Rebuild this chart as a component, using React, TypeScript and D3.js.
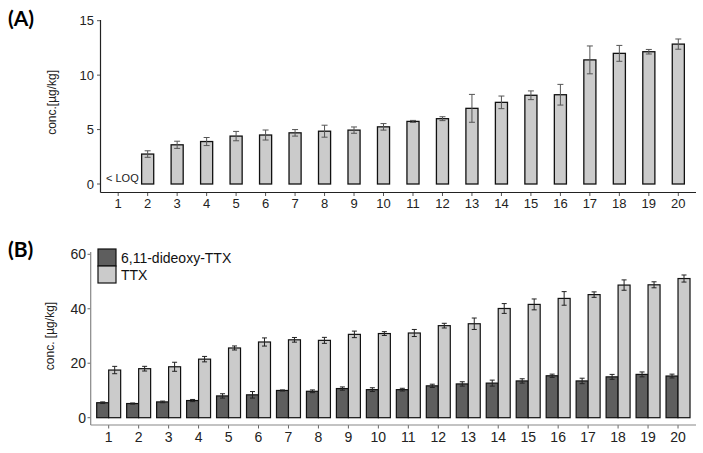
import React from "react";
import * as d3 from "d3";

const samples = d3.range(1, 21).map(String);

// Panel A: TTX concentration (sample 1 < LOQ)
const concA: (number | null)[] = [null, 2.75, 3.6, 3.9, 4.4, 4.5, 4.7, 4.85, 4.95, 5.25, 5.75, 6.0, 6.95, 7.5, 8.15, 8.2, 11.4, 12.0, 12.15, 12.85];
const errA: (number | null)[] = [null, 0.3, 0.33, 0.37, 0.43, 0.46, 0.3, 0.55, 0.29, 0.3, 0.09, 0.18, 1.28, 0.58, 0.4, 0.95, 1.28, 0.73, 0.21, 0.47];
const ticksA = [0, 5, 10, 15];

// Panel B
const seriesNames = ["6,11-dideoxy-TTX", "TTX"];
const dideoxy = [5.5, 5.2, 5.8, 6.3, 8.0, 8.4, 10.0, 9.7, 10.7, 10.3, 10.3, 11.7, 12.4, 12.7, 13.5, 15.4, 13.5, 15.0, 15.9, 15.3];
const dideoxyErr = [0.3, 0.2, 0.3, 0.4, 0.8, 1.2, 0.2, 0.5, 0.6, 0.7, 0.5, 0.6, 0.8, 1.1, 0.8, 0.6, 1.0, 0.9, 0.9, 0.7];
const ttx = [17.5, 18.0, 18.7, 21.5, 25.6, 27.8, 28.6, 28.4, 30.6, 30.9, 31.1, 33.8, 34.5, 40.1, 41.6, 43.8, 45.2, 48.7, 48.8, 51.1];
const ttxErr = [1.35, 0.86, 1.66, 1.0, 0.74, 1.5, 0.86, 1.1, 1.2, 0.7, 1.3, 0.86, 2.1, 1.8, 2.0, 2.5, 1.0, 1.9, 1.1, 1.3];
const ticksB = [0, 20, 40, 60];

const FONT = "'Liberation Sans', Arial, sans-serif";
const DARK = "#5e5e5e";
const LIGHT = "#cbcbcb";

export default function App() {
  // Panel A scales
  const xA = d3.scalePoint<string>().domain(samples).range([100.5, 696]).padding(0.6);
  const yA = d3.scaleLinear().domain([0, 15]).range([184, 20.7]);
  const stepA = xA.step();
  const bwA = stepA * 0.41;

  // Panel B scales
  const xB = d3.scalePoint<string>().domain(samples).range([90.7, 696]).padding(0.6);
  const yB = d3.scaleLinear().domain([0, 60]).range([417.7, 254.3]);
  const stepB = xB.step();
  const bwB = stepB * 0.4;
  const seriesB = [
    { name: seriesNames[0], vals: dideoxy, errs: dideoxyErr, color: DARK, off: -1 },
    { name: seriesNames[1], vals: ttx, errs: ttxErr, color: LIGHT, off: 0 },
  ];

  return (
    <svg width={703} height={453} style={{ position: "absolute", left: 0, top: 0, background: "#fff" }} fontFamily={FONT}>
      <rect width={703} height={453} fill="#fff" />
      {/* Panel A */}
      <text x={8} y={26} fontFamily="Lato, 'Open Sans', sans-serif" fontWeight="bold" fontSize={21} fill="#000">(A)</text>
      <text transform={`translate(56,${(yA(0) + yA(15)) / 2}) rotate(-90)`} textAnchor="middle" fontSize={12} fill="#222">conc.[µg/kg]</text>
      {ticksA.map((t) => (
        <g key={t}>
          <line x1={97} x2={100.5} y1={yA(t)} y2={yA(t)} stroke="#555" />
          <text x={94} y={yA(t)} dy="0.36em" textAnchor="end" fontSize={13} fill="#222">{t}</text>
        </g>
      ))}
      {samples.map((s, i) => {
        const v = concA[i];
        const e = errA[i];
        const cx = xA(s)!;
        return (
          <g key={s}>
            <line x1={cx} x2={cx} y1={192.5} y2={196} stroke="#555" />
            <text x={cx} y={208} textAnchor="middle" fontSize={13} fill="#222">{s}</text>
            {v != null && (
              <rect x={cx - bwA / 2} y={yA(v)} width={bwA} height={yA(0) - yA(v)} fill={LIGHT} stroke="#111" strokeWidth={1.3} />
            )}
            {v != null && e != null && (
              <g stroke="#555" strokeWidth={1}>
                <line x1={cx} x2={cx} y1={yA(v + e)} y2={yA(v - e)} />
                <line x1={cx - 3} x2={cx + 3} y1={yA(v + e)} y2={yA(v + e)} />
                <line x1={cx - 3} x2={cx + 3} y1={yA(v - e)} y2={yA(v - e)} />
              </g>
            )}
          </g>
        );
      })}
      <text x={106} y={182} fontSize={11} fill="#222">&lt; LOQ</text>
      <line x1={100.5} x2={100.5} y1={20} y2={192.5} stroke="#222" strokeWidth={1.2} />
      <line x1={100.5} x2={696} y1={192.5} y2={192.5} stroke="#222" strokeWidth={1.2} />

      {/* Panel B */}
      <text x={8} y={257} fontFamily="Lato, 'Open Sans', sans-serif" fontWeight="bold" fontSize={21} fill="#000">(B)</text>
      <text transform={`translate(54,${(yB(0) + yB(60)) / 2}) rotate(-90)`} textAnchor="middle" fontSize={12} fill="#222">conc. [µg/kg]</text>
      {ticksB.map((t) => (
        <g key={t}>
          <line x1={87.5} x2={90.7} y1={yB(t)} y2={yB(t)} stroke="#666" />
          <text x={86} y={yB(t)} dy="0.36em" textAnchor="end" fontSize={14} fill="#222">{t}</text>
        </g>
      ))}
      {samples.map((s, i) => {
        const cx = xB(s)!;
        return (
          <g key={s}>
            <line x1={cx} x2={cx} y1={425} y2={428.5} stroke="#666" />
            <text x={cx} y={442} textAnchor="middle" fontSize={14} fill="#222">{s}</text>
            {seriesB.map((sr) => {
              const v = sr.vals[i];
              const e = sr.errs[i];
              const bx = cx + sr.off * bwB;
              const mx = bx + bwB / 2;
              return (
                <g key={sr.name}>
                  <rect x={bx} y={yB(v)} width={bwB} height={yB(0) - yB(v)} fill={sr.color} stroke="#111" strokeWidth={1.2} />
                  <g stroke="#222" strokeWidth={1}>
                    <line x1={mx} x2={mx} y1={yB(v + e)} y2={yB(v - e)} />
                    <line x1={mx - 2.5} x2={mx + 2.5} y1={yB(v + e)} y2={yB(v + e)} />
                    <line x1={mx - 2.5} x2={mx + 2.5} y1={yB(v - e)} y2={yB(v - e)} />
                  </g>
                </g>
              );
            })}
          </g>
        );
      })}
      <line x1={90.7} x2={90.7} y1={252} y2={425} stroke="#888" strokeWidth={1.2} />
      <line x1={90.7} x2={696} y1={425} y2={425} stroke="#888" strokeWidth={1.2} />
      {/* Legend */}
      {seriesB.map((sr, k) => (
        <g key={sr.name}>
          <rect x={98} y={249 + k * 17} width={18} height={17} fill={sr.color} stroke="#111" strokeWidth={1.2} />
          <text x={121} y={262.5 + k * 17} fontSize={14} fill="#111">{sr.name}</text>
        </g>
      ))}
    </svg>
  );
}
